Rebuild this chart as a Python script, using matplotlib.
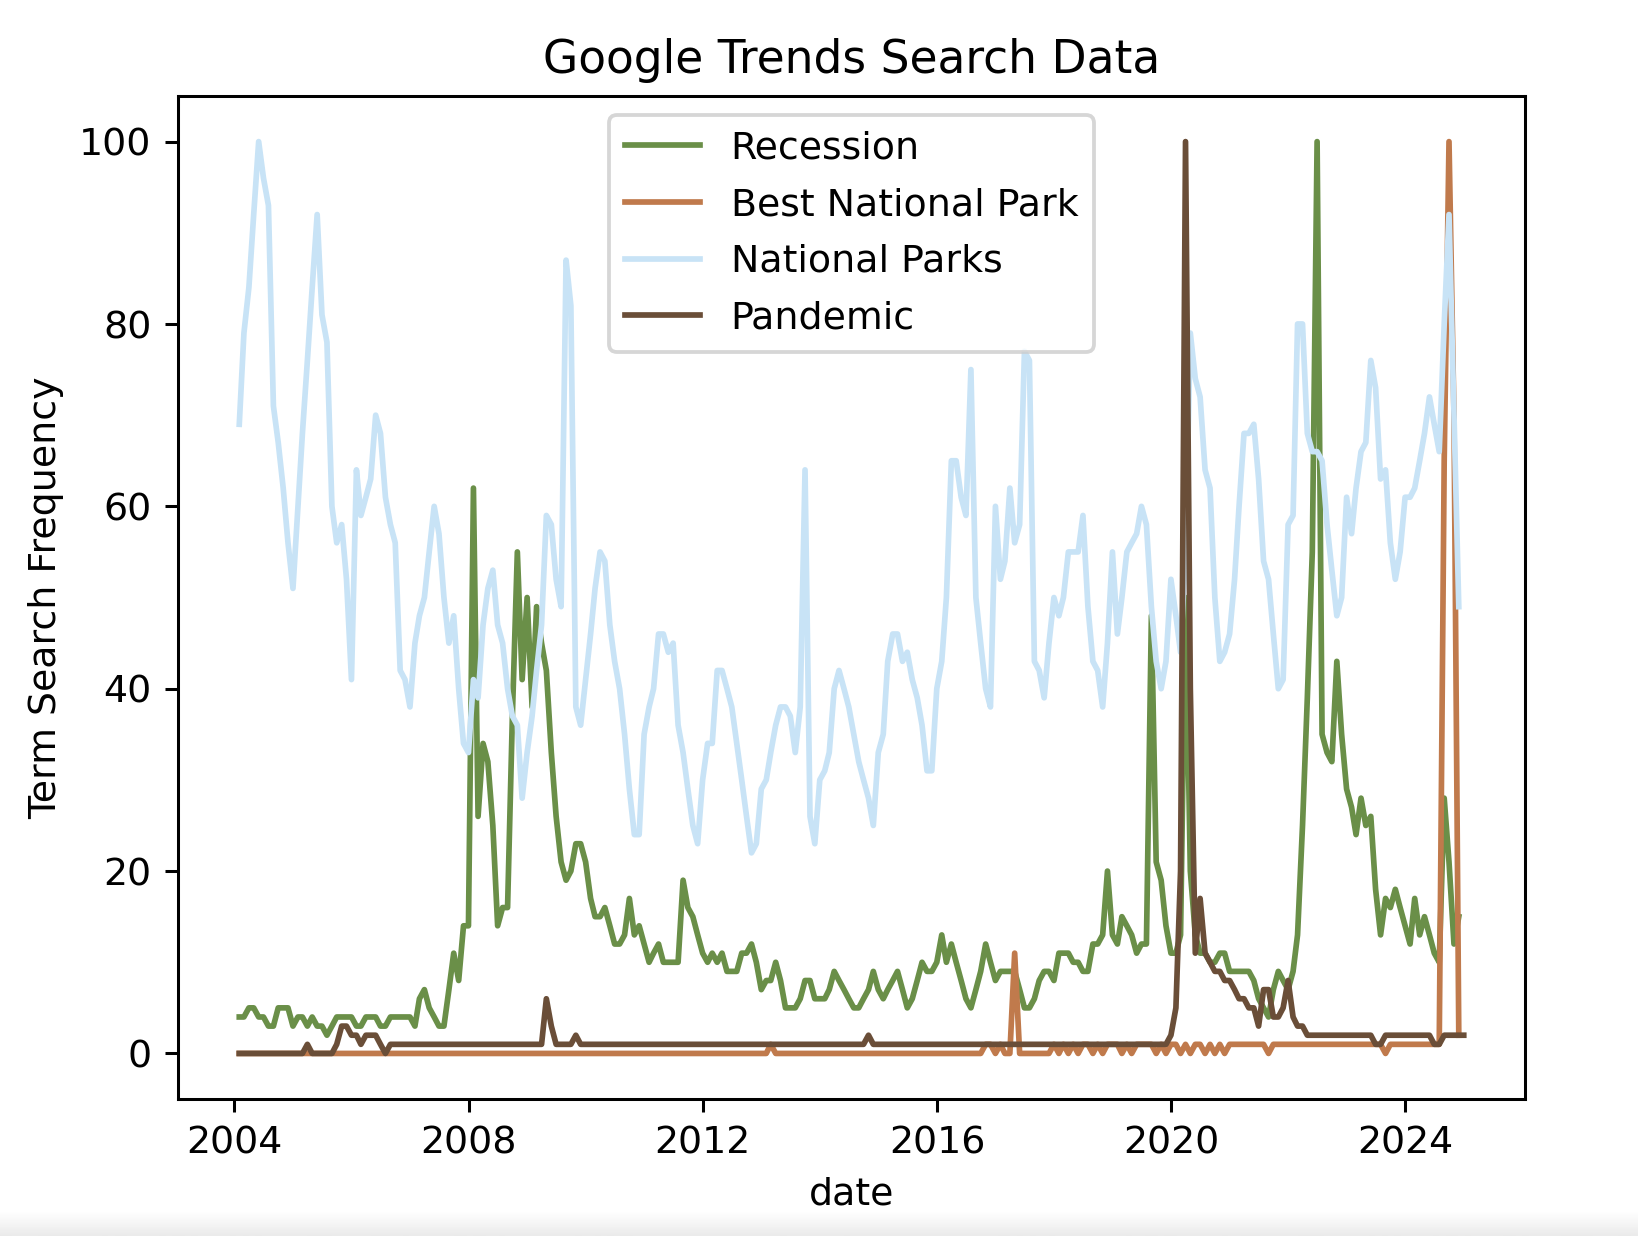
import numpy as np
import pandas as pd
import matplotlib
matplotlib.use("Agg")
import matplotlib.pyplot as plt
import matplotlib.dates as mdates

# monthly values, Jan 2004 onwards (one row per year)
recession = [
    4, 4, 5, 5, 4, 4, 3, 3, 5, 5, 5, 3,
    4, 4, 3, 4, 3, 3, 2, 3, 4, 4, 4, 4,
    3, 3, 4, 4, 4, 3, 3, 4, 4, 4, 4, 4,
    3, 6, 7, 5, 4, 3, 3, 7, 11, 8, 14, 14,
    62, 26, 34, 32, 25, 14, 16, 16, 37, 55, 41, 50,
    38, 49, 45, 42, 33, 26, 21, 19, 20, 23, 23, 21,
    17, 15, 15, 16, 14, 12, 12, 13, 17, 13, 14, 12,
    10, 11, 12, 10, 10, 10, 10, 19, 16, 15, 13, 11,
    10, 11, 10, 11, 9, 9, 9, 11, 11, 12, 10, 7,
    8, 8, 10, 8, 5, 5, 5, 6, 8, 8, 6, 6,
    6, 7, 9, 8, 7, 6, 5, 5, 6, 7, 9, 7,
    6, 7, 8, 9, 7, 5, 6, 8, 10, 9, 9, 10,
    13, 10, 12, 10, 8, 6, 5, 7, 9, 12, 10, 8,
    9, 9, 9, 9, 7, 5, 5, 6, 8, 9, 9, 8,
    11, 11, 11, 10, 10, 9, 9, 12, 12, 13, 20, 13,
    12, 15, 14, 13, 11, 12, 12, 48, 21, 19, 14, 11,
    11, 13, 50, 20, 13, 11, 11, 10, 10, 11, 11, 9,
    9, 9, 9, 9, 8, 6, 5, 4, 7, 9, 8, 7,
    9, 13, 25, 39, 55, 100, 35, 33, 32, 43, 35, 29,
    27, 24, 28, 25, 26, 18, 13, 17, 16, 18, 16, 14,
    12, 17, 13, 15, 13, 11, 10, 28, 21, 12, 15,
]

best_park = [0] * 108 + [
    0, 1, 0, 0, 0, 0, 0, 0, 0, 0, 0, 0,
    0, 0, 0, 0, 0, 0, 0, 0, 0, 0, 0, 0,
    0, 0, 0, 0, 0, 0, 0, 0, 0, 0, 0, 0,
    0, 0, 0, 0, 0, 0, 0, 0, 0, 1, 1, 0,
    1, 0, 0, 11, 0, 0, 0, 0, 0, 0, 0, 1,
    0, 1, 0, 1, 0, 1, 1, 0, 1, 0, 1, 1,
    1, 0, 1, 0, 1, 1, 1, 1, 0, 1, 0, 1,
    1, 0, 1, 0, 1, 1, 0, 1, 0, 1, 0, 1,
    1, 1, 1, 1, 1, 1, 1, 0, 1, 1, 1, 1,
    1, 1, 1, 1, 1, 1, 1, 1, 1, 1, 1, 1,
    1, 1, 1, 1, 1, 1, 1, 0, 1, 1, 1, 1,
    1, 1, 1, 1, 1, 1, 1, 65, 100, 70, 2,
]

national_parks = [
    69, 79, 84, 92, 100, 96, 93, 71, 67, 62, 56, 51,
    60, 68, 76, 84, 92, 81, 78, 60, 56, 58, 52, 41,
    64, 59, 61, 63, 70, 68, 61, 58, 56, 42, 41, 38,
    45, 48, 50, 55, 60, 57, 50, 45, 48, 40, 34, 33,
    41, 39, 47, 51, 53, 47, 45, 40, 37, 36, 28, 33,
    37, 42, 47, 59, 58, 52, 49, 87, 82, 38, 36, 41,
    46, 51, 55, 54, 47, 43, 40, 35, 29, 24, 24, 35,
    38, 40, 46, 46, 44, 45, 36, 33, 29, 25, 23, 30,
    34, 34, 42, 42, 40, 38, 34, 30, 26, 22, 23, 29,
    30, 33, 36, 38, 38, 37, 33, 38, 64, 26, 23, 30,
    31, 33, 40, 42, 40, 38, 35, 32, 30, 28, 25, 33,
    35, 43, 46, 46, 43, 44, 41, 39, 36, 31, 31, 40,
    43, 50, 65, 65, 61, 59, 75, 50, 45, 40, 38, 60,
    52, 54, 62, 56, 58, 77, 76, 43, 42, 39, 45, 50,
    48, 50, 55, 55, 55, 59, 49, 43, 42, 38, 45, 55,
    46, 50, 55, 56, 57, 60, 58, 49, 43, 40, 43, 52,
    48, 44, 55, 79, 74, 72, 64, 62, 50, 43, 44, 46,
    52, 60, 68, 68, 69, 63, 54, 52, 46, 40, 41, 58,
    59, 80, 80, 68, 66, 66, 65, 58, 53, 48, 50, 61,
    57, 62, 66, 67, 76, 73, 63, 64, 56, 52, 55, 61,
    61, 62, 65, 68, 72, 69, 66, 80, 92, 70, 49,
]

pandemic = [
    0, 0, 0, 0, 0, 0, 0, 0, 0, 0, 0, 0,
    0, 0, 1, 0, 0, 0, 0, 0, 1, 3, 3, 2,
    2, 1, 2, 2, 2, 1, 0, 1, 1, 1, 1, 1,
    1, 1, 1, 1, 1, 1, 1, 1, 1, 1, 1, 1,
    1, 1, 1, 1, 1, 1, 1, 1, 1, 1, 1, 1,
    1, 1, 1, 6, 3, 1, 1, 1, 1, 2, 1, 1,
] + [1] * 48 + [
    1, 1, 1, 1, 1, 1, 1, 1, 1, 2, 1, 1,
] + [1] * 48 + [
    1, 1, 1, 1, 1, 1, 1, 1, 1, 1, 1, 2,
    5, 20, 100, 40, 11, 17, 11, 10, 9, 9, 8, 8,
    7, 6, 6, 5, 5, 3, 7, 7, 4, 4, 5, 8,
    4, 3, 3, 2, 2, 2, 2, 2, 2, 2, 2, 2,
    2, 2, 2, 2, 2, 1, 1, 2, 2, 2, 2, 2,
    2, 2, 2, 2, 2, 1, 1, 2, 2, 2, 2, 2,
]

dates = pd.date_range("2004-01-31", periods=len(pandemic), freq="ME")

dpi = 273
fig = plt.figure(figsize=(6.0, 4.5276), dpi=dpi)
ax = fig.add_axes([0.1087, 0.1108, 0.8223, 0.8115])

ax.plot(dates[:len(recession)], recession, color="#6a8f48", label="Recession")
ax.plot(dates[:len(best_park)], best_park, color="#c07a4c", label="Best National Park")
ax.plot(dates[:len(national_parks)], national_parks, color="#c8e3f6", label="National Parks")
ax.plot(dates[:len(pandemic)], pandemic, color="#6a4e38", label="Pandemic")

ax.xaxis.set_major_locator(mdates.YearLocator(4))
ax.xaxis.set_major_formatter(mdates.DateFormatter("%Y"))

ax.set_title("Google Trends Search Data")
ax.set_xlabel("date")
ax.set_ylabel("Term Search Frequency")
ax.legend(loc="upper center", labelspacing=0.55)

# faint grey band along the bottom edge of the screenshot
band = fig.add_axes([0, 0, 1, 0.02])
band.imshow(np.linspace(1.0, 0.92, 20).reshape(-1, 1), cmap="gray", vmin=0, vmax=1,
            aspect="auto", extent=[0, 1, 0, 1], origin="upper")
band.axis("off")

fig.savefig("out.png", dpi=dpi)
